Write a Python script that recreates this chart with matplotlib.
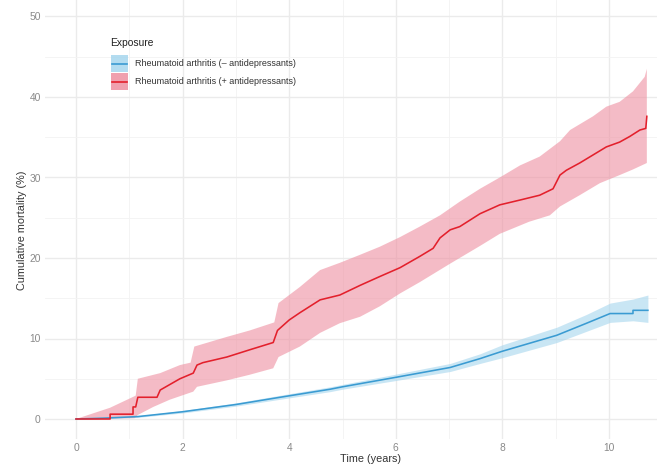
import matplotlib
matplotlib.use("Agg")
import matplotlib.pyplot as plt
from matplotlib.patches import Rectangle
from matplotlib.lines import Line2D
import numpy as np

plt.rcParams['font.family'] = ['Liberation Sans', 'DejaVu Sans']

# ---- data (repeated times mark vertical jumps) ----
red_t = [0, 0.64, 0.64, 1.07, 1.07, 1.12, 1.16, 1.52, 1.58, 1.95, 2.2, 2.27, 2.38, 2.83,
         3.26, 3.7, 3.78, 4.0, 4.2, 4.58, 4.95, 5.33, 5.7, 6.08, 6.45, 6.7, 6.83, 7.02,
         7.2, 7.58, 7.95, 8.33, 8.7, 8.95, 9.08, 9.2, 9.45, 9.7, 9.95, 10.2, 10.39,
         10.58, 10.69, 10.71]
red_v = [0, 0, 0.6, 0.6, 1.5, 1.5, 2.7, 2.7, 3.6, 5.0, 5.7, 6.7, 7.0, 7.7,
         8.6, 9.5, 11.0, 12.3, 13.2, 14.8, 15.4, 16.6, 17.7, 18.8, 20.2, 21.2, 22.5, 23.5,
         23.9, 25.5, 26.6, 27.2, 27.8, 28.6, 30.3, 30.9, 31.8, 32.8, 33.8, 34.4, 35.1,
         35.9, 36.1, 37.6]

red_hi_t = [0, 0.64, 1.12, 1.16, 1.58, 1.95, 2.15, 2.22, 2.83, 3.26, 3.72, 3.8, 4.0, 4.2,
            4.58, 4.95, 5.33, 5.7, 6.08, 6.45, 6.83, 7.2, 7.58, 7.95, 8.33, 8.7, 9.08,
            9.27, 9.7, 9.95, 10.2, 10.45, 10.67, 10.71]
red_hi_v = [0, 1.4, 2.9, 5.0, 5.7, 6.7, 7.0, 9.0, 10.2, 11.0, 12.0, 14.4, 15.4, 16.4,
            18.5, 19.4, 20.4, 21.4, 22.6, 23.9, 25.3, 27.0, 28.6, 30.0, 31.5, 32.6, 34.5,
            35.9, 37.6, 38.8, 39.4, 40.7, 42.5, 43.5]

red_lo_t = [0, 1.1, 1.16, 1.45, 1.76, 2.2, 2.27, 2.83, 3.26, 3.7, 3.8, 4.2, 4.58, 4.95,
            5.33, 5.7, 6.08, 6.45, 7.02, 7.58, 7.95, 8.5, 8.89, 9.08, 9.45, 9.83, 10.2,
            10.45, 10.71]
red_lo_v = [0, 0.1, 0.5, 1.5, 2.4, 3.4, 4.0, 4.8, 5.5, 6.3, 7.7, 9.0, 10.7, 11.9,
            12.7, 14.0, 15.6, 17.0, 19.3, 21.5, 23.0, 24.5, 25.3, 26.4, 27.8, 29.3, 30.3,
            31.0, 31.8]

blue_t = [0, 0.5, 1.16, 2.0, 3.0, 3.83, 4.77, 5.0, 6.02, 7.02, 7.58, 7.99, 9.02, 9.58,
          10.02, 10.45, 10.45, 10.73]
blue_v = [0, 0.1, 0.3, 0.9, 1.8, 2.7, 3.7, 4.0, 5.2, 6.4, 7.5, 8.4, 10.4, 11.9,
          13.1, 13.1, 13.5, 13.5]
blue_lo = [0, 0.05, 0.2, 0.75, 1.6, 2.45, 3.4, 3.7, 4.8, 5.9, 6.9, 7.6, 9.5, 10.9,
           12.0, 12.2, 12.2, 12.0]
blue_hi = [0, 0.15, 0.4, 1.05, 2.0, 2.95, 4.0, 4.3, 5.6, 6.9, 8.1, 9.2, 11.4, 13.0,
           14.4, 14.9, 14.9, 15.4]

legend_title = "Exposure"
labels = ["Rheumatoid arthritis (\u2013 antidepressants)",
          "Rheumatoid arthritis (+ antidepressants)"]
x_ticks = [0, 2, 4, 6, 8, 10]
y_ticks = [0, 10, 20, 30, 40, 50]

# ---- styling ----
RED = "#E3202C"
RED_FILL = "#EE8FA0"
BLUE = "#3A9BD2"
BLUE_FILL = "#A6D6EE"
W, H = 657, 468

fig = plt.figure(figsize=(W / 100, H / 100), dpi=100)
ax_left, ax_right, ax_bottom, ax_top = 45, 657, 439, 0
ax = fig.add_axes([ax_left / W, (H - ax_bottom) / H,
                   (ax_right - ax_left) / W, (ax_bottom - ax_top) / H])

xpx = 53.3   # px per year, x=0 at px 76
ypx = 8.05   # px per %, y=0 at px 419
ax.set_xlim((ax_left - 76) / xpx, (ax_right - 76) / xpx)
ax.set_ylim(-(ax_bottom - 419) / ypx, (419 - ax_top) / ypx)

ax.set_xticks(x_ticks)
ax.set_yticks(y_ticks)
ax.set_xticks([1, 3, 5, 7, 9], minor=True)
ax.set_yticks([5, 15, 25, 35, 45], minor=True)
ax.grid(which="major", color="#EBEBEB", lw=1.0)
ax.grid(which="minor", color="#F3F3F3", lw=0.6)
ax.set_axisbelow(True)
for s in ax.spines.values():
    s.set_visible(False)
ax.tick_params(which="both", length=0)
ax.tick_params(axis="both", labelsize=7.4, labelcolor="#8A8A8A", pad=3)

# bands
ax.fill_between(blue_t, blue_lo, blue_hi, color=BLUE_FILL, alpha=0.6, lw=0)
ax.fill(np.concatenate([red_hi_t, red_lo_t[::-1]]),
        np.concatenate([red_hi_v, red_lo_v[::-1]]),
        color=RED_FILL, alpha=0.6, lw=0)

# lines
ax.plot(blue_t, blue_v, color=BLUE, lw=1.15)
ax.plot(red_t, red_v, color=RED, lw=1.15)

# axis labels
ax.set_xlabel("Time (years)", fontsize=7.8, color="#333333")
ax.xaxis.set_label_coords((370 - ax_left) / (ax_right - ax_left),
                          -(454 - ax_bottom) / (ax_bottom - ax_top))
ax.set_ylabel("Cumulative mortality (%)", fontsize=7.8, color="#333333")
ax.yaxis.set_label_coords(-(ax_left - 27) / (ax_right - ax_left),
                          (ax_bottom - 230) / (ax_bottom - ax_top))

# legend (drawn in figure pixel coordinates)
def fx(px):
    return px / W

def fy(py):
    return 1 - py / H

fig.text(fx(110), fy(43), legend_title, fontsize=7.4, color="#222222",
         ha="left", va="center")
for i, (lab, lc, fc) in enumerate(zip(labels, [BLUE, RED], [BLUE_FILL, RED_FILL])):
    top = 55 + i * 18
    fig.add_artist(Rectangle((fx(111), fy(top + 17)), fx(17), 17 / H,
                             transform=fig.transFigure, facecolor=fc, alpha=0.85,
                             edgecolor="none"))
    fig.add_artist(Line2D([fx(112), fx(127)], [fy(top + 8.5)] * 2,
                          transform=fig.transFigure, color=lc, lw=1.2))
    fig.text(fx(135), fy(top + 8.5), lab, fontsize=6.5, color="#333333",
             ha="left", va="center")

fig.savefig("out.png", dpi=100)
